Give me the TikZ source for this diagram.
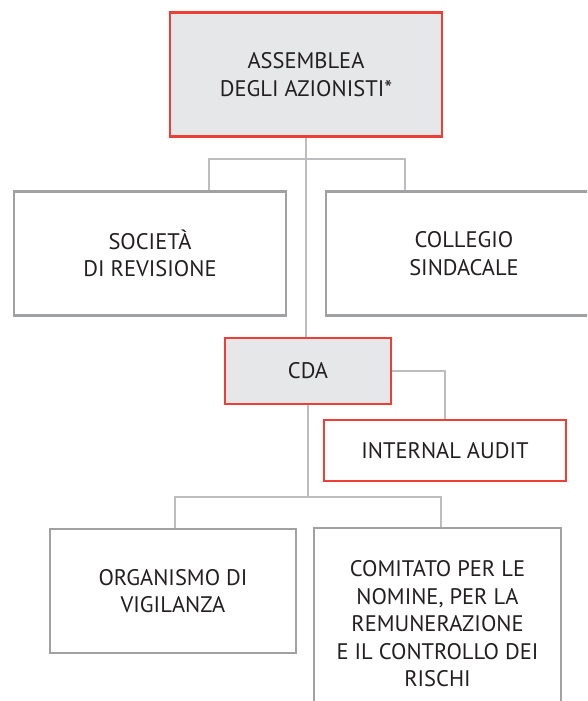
\documentclass[tikz,border=0pt]{standalone}
\usepackage{fontspec}
\setmainfont{PT Sans}
\usetikzlibrary{positioning}
\definecolor{govred}{HTML}{EE3F36}
\definecolor{govfill}{HTML}{E6E7E8}
\definecolor{govgray}{HTML}{A0A1A3}
\definecolor{govlink}{HTML}{BCBDC0}
\definecolor{govtext}{HTML}{231F20}

\begin{document}
\begin{tikzpicture}[x=1pt, y=-1pt,
  every node/.style={font=\fontsize{22.5}{27.5}\selectfont, text=govtext,
    align=center, inner sep=0},
  redbox/.style={draw=govred, fill=govfill, line width=2.6pt},
  redline/.style={draw=govred, fill=white, line width=2.6pt},
  graybox/.style={draw=govgray, fill=white, line width=2.4pt},
  link/.style={draw=govlink, line width=2pt}]
  \def\orgbox#1#2#3#4#5#6{
    \node[#1, minimum width=#4, minimum height=#5] (#2) at #3 {#6};
  }
  \useasboundingbox (0,0) rectangle (587,701);
  \clip (0,0) rectangle (587,701);

  \orgbox{redbox}{assemblea}{(306,74.5)}{272pt}{124pt}
  {ASSEMBLEA\\ DEGLI AZIONISTI*}

  \orgbox{graybox}{societa}{(150,253.5)}{272pt}{124pt}
  {SOCIETÀ\\ DI REVISIONE}

  \orgbox{graybox}{collegio}{(464,253.5)}{276pt}{124pt}
  {COLLEGIO\\ SINDACALE}

  \orgbox{redbox}{cda}{(308,371)}{166pt}{66pt}
  {CDA}

  \orgbox{redline}{audit}{(445,450.5)}{242pt}{61pt}
  {INTERNAL AUDIT}

  \orgbox{graybox}{organismo}{(173,591)}{246pt}{124pt}
  {ORGANISMO DI\\ VIGILANZA}

  \orgbox{graybox}{comitato}{(437.5,624)}{247pt}{192pt}
  {COMITATO PER LE\\ NOMINE, PER LA\\ REMUNERAZIONE\\
    E IL CONTROLLO DEI\\ RISCHI}

  % branch points of the tree
  \coordinate (socdrop) at (209,159);
  \coordinate (coldrop) at (405,159);
  \coordinate (orgdrop) at (175,497);
  \coordinate (comdrop) at (441,497);

  \path[link] (assemblea.south) -- (assemblea.south |- cda.north)
  (socdrop |- societa.north) -- (socdrop) -- (coldrop) -- (coldrop |- collegio.north)
  (cda.east) -| (audit.north)
  (cda.south) -- (cda.south |- orgdrop)
  (orgdrop |- organismo.north) -- (orgdrop) -- (comdrop) -- (comdrop |- comitato.north);
\end{tikzpicture}
\end{document}
